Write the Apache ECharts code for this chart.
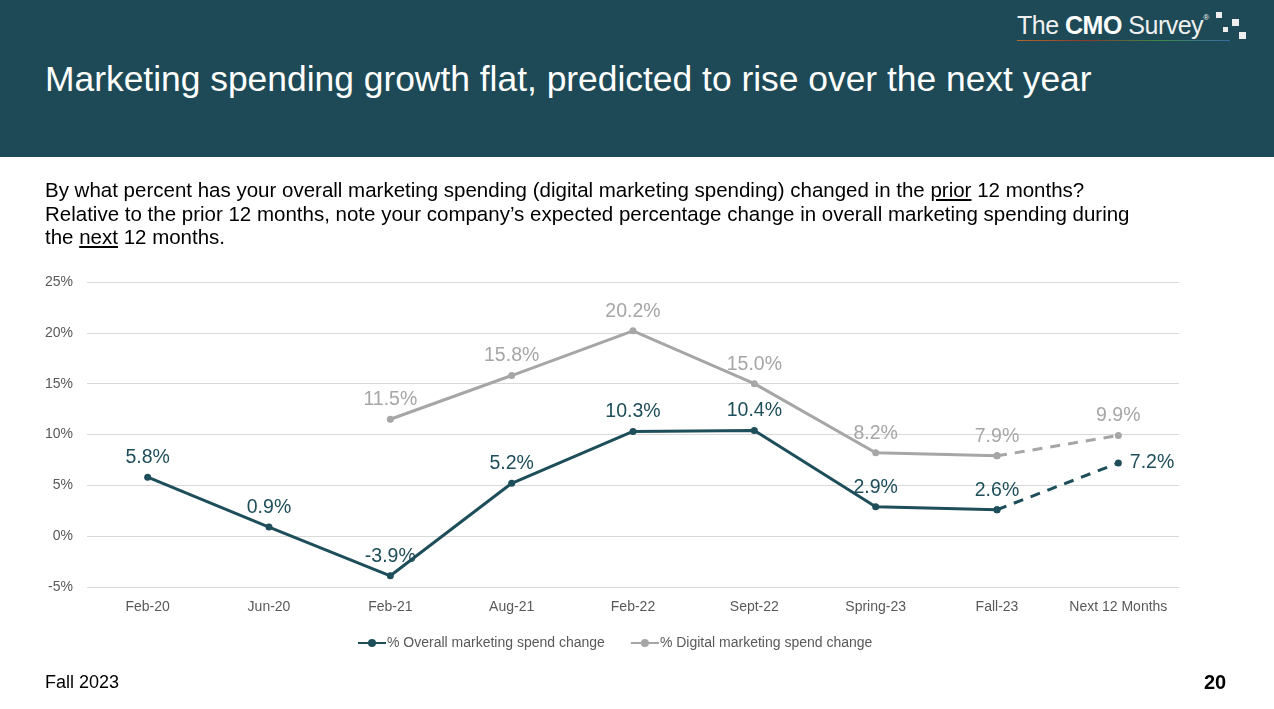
<!DOCTYPE html>
<html><head><meta charset="utf-8">
<script src="https://cdn.jsdelivr.net/npm/echarts@6/dist/echarts.min.js"></script>
<style>
html,body{margin:0;padding:0;width:1274px;height:709px;overflow:hidden;background:#fff;font-family:"Liberation Sans",Arial,sans-serif;}
#header{position:absolute;left:0;top:0;width:1274px;height:157px;background:#1D4A56;}
#title{position:absolute;left:45px;top:59px;color:#fff;font-size:35.4px;line-height:40px;white-space:nowrap;}
#logo{position:absolute;left:1017px;top:11px;color:#fff;font-size:25px;white-space:nowrap;letter-spacing:-0.5px;}
#logo .t{color:#f0f0f0}
#logo b{font-weight:bold}
#logo sup{font-size:8px;vertical-align:top;position:relative;top:2px}
#logoline{position:absolute;left:1017px;top:40px;width:213px;height:1px;background:linear-gradient(90deg,#b46a2c,#8a3a2a,#3b8a4a,#3a6aa8);}
.sq{position:absolute;background:#eee;width:6px;height:6px;}
#sub{position:absolute;left:45px;top:178px;width:1180px;font-size:20.5px;line-height:23.5px;color:#000;white-space:nowrap;}
#chart{position:absolute;left:0;top:0;width:1274px;height:709px;}
#foot{position:absolute;left:45px;top:672px;font-size:18px;color:#000;}
#page{position:absolute;left:1204px;top:672px;font-size:20px;line-height:20px;font-weight:bold;color:#000;}
</style></head>
<body>
<div id="chart"></div>
<div id="header">
  <div id="title">Marketing spending growth flat, predicted to rise over the next year</div>
  <div id="logo"><span class="t">The </span><b>CMO</b><span class="t"> Survey</span><sup>®</sup></div>
  <div id="logoline"></div>
  <div class="sq" style="left:1216px;top:12px"></div>
  <div class="sq" style="left:1232px;top:19px;width:7px;height:7px"></div>
  <div class="sq" style="left:1223px;top:27px;width:5px;height:5px"></div>
  <div class="sq" style="left:1239px;top:32px;width:7px;height:7px"></div>
</div>
<div id="sub">By what percent has your overall marketing spending (digital marketing spending) changed in the <u>prior</u> 12 months?<br>Relative to the prior 12 months, note your company’s expected percentage change in overall marketing spending during<br>the <u>next</u> 12 months.</div>
<div id="foot">Fall 2023</div>
<div id="page">20</div>
<script>
const categories = ["Feb-20","Jun-20","Feb-21","Aug-21","Feb-22","Sept-22","Spring-23","Fall-23","Next 12 Months"];
const overallActual = [5.8, 0.9, -3.9, 5.2, 10.3, 10.4, 2.9, 2.6, null];
const overallForecast = [null, null, null, null, null, null, null, 2.6, 7.2];
const digitalActual = [null, null, 11.5, 15.8, 20.2, 15.0, 8.2, 7.9, null];
const digitalForecast = [null, null, null, null, null, null, null, 7.9, 9.9];
const yTicks = {min: -5, max: 25, interval: 5};

const dark = '#1D4E5A', grey = '#A6A6A6';
const chart = echarts.init(document.getElementById('chart'), null, {renderer:'canvas'});
const lblFont = {fontFamily:'Liberation Sans', fontSize:19.5};
chart.setOption({
  animation:false,
  grid:{left:87, right:95, top:282, height:305, containLabel:false},
  legend:{
    bottom:59, left:357, padding:0, itemGap:25, itemWidth:28, itemHeight:10,
    data:[{name:'% Overall marketing spend change'},{name:'% Digital marketing spend change'}],
    textStyle:{color:'#595959', fontSize:14, fontFamily:'Liberation Sans', padding:[0,0,0,-4]}
  },
  xAxis:{
    type:'category', data:categories, boundaryGap:true,
    axisLine:{show:false}, axisTick:{show:false},
    axisLabel:{color:'#595959', fontSize:14, fontFamily:'Liberation Sans', margin:13, interval:0}
  },
  yAxis:{
    type:'value', min:yTicks.min, max:yTicks.max, interval:yTicks.interval,
    axisLine:{show:false}, axisTick:{show:false},
    axisLabel:{color:'#595959', fontSize:14, fontFamily:'Liberation Sans', formatter:'{value}%', margin:14},
    splitLine:{lineStyle:{color:'#D9D9D9', width:1}}
  },
  series:[
    {name:'% Overall marketing spend change', type:'line', data:overallActual, color:dark,
     lineStyle:{width:3, color:dark}, symbol:'circle', symbolSize:7, itemStyle:{color:dark},
     label:{show:true, position:'top', distance:6, color:dark, ...lblFont, formatter:p=>p.value.toFixed(1)+'%'}, z:3},
    {name:'% Overall marketing spend change', type:'line', data:overallForecast,
     lineStyle:{width:3, color:dark, type:[10,8]}, symbol:'circle', symbolSize:7, itemStyle:{color:dark},
     label:{show:true, position:'right', distance:8, color:dark, ...lblFont,
       formatter:p=>p.dataIndex===8?p.value.toFixed(1)+'%':''}, z:2},
    {name:'% Digital marketing spend change', type:'line', data:digitalActual, color:grey,
     lineStyle:{width:3, color:grey}, symbol:'circle', symbolSize:7, itemStyle:{color:grey},
     label:{show:true, position:'top', distance:6, color:grey, ...lblFont, formatter:p=>p.value.toFixed(1)+'%'}, z:3},
    {name:'% Digital marketing spend change', type:'line', data:digitalForecast,
     lineStyle:{width:3, color:grey, type:[10,8]}, symbol:'circle', symbolSize:7, itemStyle:{color:grey},
     label:{show:true, position:'top', distance:6, color:grey, ...lblFont,
       formatter:p=>p.dataIndex===8?p.value.toFixed(1)+'%':''}, z:2}
  ]
});
</script>
</body></html>
